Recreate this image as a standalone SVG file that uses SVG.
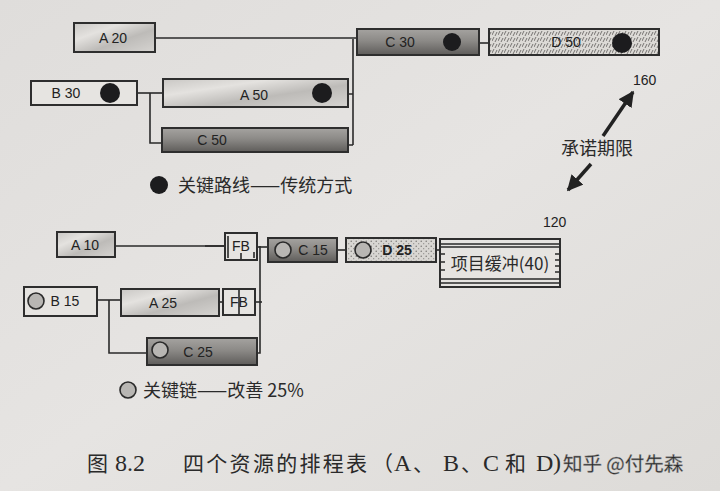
<svg xmlns="http://www.w3.org/2000/svg" width="720" height="491" viewBox="0 0 720 491">
<defs>
<linearGradient id="gA" x1="0" y1="0" x2="1" y2="1">
<stop offset="0" stop-color="#c9c7c4"/><stop offset="0.3" stop-color="#e4e2df"/><stop offset="0.6" stop-color="#bdbbb8"/><stop offset="1" stop-color="#d6d4d1"/>
</linearGradient>
<linearGradient id="gC" x1="0" y1="0" x2="0" y2="1">
<stop offset="0" stop-color="#a5a3a0"/><stop offset="0.45" stop-color="#8c8a87"/><stop offset="1" stop-color="#5e5c5a"/>
</linearGradient>
<pattern id="pD" width="6" height="6" patternUnits="userSpaceOnUse">
<rect width="6" height="6" fill="#dcdad6"/>
<path d="M0 5 L2 1 M3 6 L5 2" stroke="#6a6866" stroke-width="0.9"/>
</pattern>
<pattern id="pD2" width="5" height="5" patternUnits="userSpaceOnUse">
<rect width="5" height="5" fill="#d8d6d2"/>
<circle cx="1.2" cy="1.2" r="0.7" fill="#6f6d6a"/><circle cx="3.7" cy="3.7" r="0.6" fill="#8a8885"/>
</pattern>
<linearGradient id="bg" x1="0" y1="0" x2="1" y2="1">
<stop offset="0" stop-color="#dfdddb"/><stop offset="0.5" stop-color="#e6e4e2"/><stop offset="1" stop-color="#dddbd8"/>
</linearGradient>
<marker id="ah" viewBox="0 0 10 10" refX="9" refY="5" markerWidth="4.5" markerHeight="4.5" orient="auto-start-reverse">
<path d="M0 0 L10 5 L0 10 z" fill="#222"/>
</marker>
</defs>
<style>
.box{stroke:#2e2e2e;stroke-width:2}
.a{fill:url(#gA)}
.c{fill:url(#gC)}
.d{fill:url(#pD)}
.d2{fill:url(#pD2)}
.w{fill:#e6e4e1}
.t{font-family:"Liberation Sans",Arial,sans-serif;font-size:14px;fill:#222}
.cn{font-family:"Noto Sans CJK SC",sans-serif;fill:#2a2a2a}
.sf{font-family:"Liberation Serif","Times New Roman",serif;fill:#2a2a2a;font-size:24px}
.ln{stroke:#2a2a2a;stroke-width:1.6;fill:none}
.dot{fill:#1c1c1e}
.ring{fill:#b8b6b3;stroke:#2a2a2a;stroke-width:1.6}
</style>
<rect width="720" height="491" fill="url(#bg)"/>

<g id="connectors">
<path class="ln" d="M155 38 H357"/>
<path class="ln" d="M479 43 H489"/>
<path class="ln" d="M353 39 V145"/>
<path class="ln" d="M348 94 H353 M348 145 H353"/>
<path class="ln" d="M137 93 H163" stroke-width="2.5"/>
<path class="ln" d="M150 93 V143 H162"/>
<path class="ln" d="M115 246 H225"/>
<path class="ln" d="M205 246 H225" stroke-width="3"/>
<path class="ln" d="M257 247 H268"/>
<path class="ln" d="M337 250 H346"/>
<path class="ln" d="M436 250 H440"/>
<path class="ln" d="M260 246 V353 H257"/>
<path class="ln" d="M254 302 H262"/>
<path class="ln" d="M219 302 H223"/>
<path class="ln" d="M97 300 H121"/>
<path class="ln" d="M109 300 V353 H147"/>
<path d="M603 136 L633 92" stroke="#222" stroke-width="3.5" marker-end="url(#ah)"/>
<path d="M591 164 L568 190" stroke="#222" stroke-width="3.5" marker-end="url(#ah)"/>
</g>

<g id="A20"><rect class="box a" x="74" y="23" width="81" height="29"/><text class="t" x="113" y="43" text-anchor="middle">A 20</text></g>
<g id="C30"><rect class="box c" x="357" y="29" width="122" height="26"/><text class="t" x="400" y="47" text-anchor="middle">C 30</text><circle class="dot" cx="452" cy="42" r="9"/></g>
<g id="D50"><rect class="box d" x="489" y="29" width="170" height="26"/><text class="t" x="566" y="47" text-anchor="middle">D 50</text><circle class="dot" cx="622" cy="43" r="10"/></g>
<g id="B30"><rect class="box w" x="31" y="81" width="106" height="24"/><text class="t" x="66" y="98" text-anchor="middle">B 30</text><circle class="dot" cx="110" cy="93" r="10"/></g>
<g id="A50"><rect class="box a" x="163" y="79" width="185" height="28"/><text class="t" x="254" y="100" text-anchor="middle">A 50</text><circle class="dot" cx="322" cy="93" r="10"/></g>
<g id="C50"><rect class="box c" x="162" y="128" width="186" height="24"/><text class="t" x="212" y="145" text-anchor="middle">C 50</text></g>

<g id="legend1"><circle class="dot" cx="159" cy="185" r="9"/><text class="cn" x="178" y="192" font-size="18">关键路线——传统方式</text></g>

<g id="commit">
<text class="t" x="633" y="85" font-size="16">160</text>
<text class="cn" x="597" y="155" font-size="18" text-anchor="middle">承诺期限</text>
<text class="t" x="543" y="227" font-size="15">120</text>
</g>

<g id="A10"><rect class="box a" x="57" y="232" width="58" height="25"/><text class="t" x="85" y="250" text-anchor="middle">A 10</text></g>
<g id="FB1"><rect class="box w" x="225" y="233" width="32" height="27"/><text class="t" x="241" y="251" text-anchor="middle">FB</text><path class="ln" d="M228 236 V258 M241 253 V260 M254 252 V258" stroke-width="1.2"/></g>
<g id="C15"><rect class="box c" x="268" y="238" width="69" height="24"/><circle class="ring" cx="283" cy="250" r="8"/><text class="t" x="313" y="255" text-anchor="middle">C 15</text></g>
<g id="D25"><rect class="box d2" x="346" y="238" width="90" height="24"/><circle class="ring" cx="363" cy="250" r="8"/><text class="t" x="397" y="255" text-anchor="middle" font-weight="bold">D 25</text></g>
<g id="buffer"><rect class="box w" x="440" y="239" width="120" height="48"/><path class="ln" d="M441 244 H559 M441 247 H559 M441 279 H559 M441 283 H559" stroke-width="1.2"/><path class="ln" d="M441 254 H445 M441 262 H445 M441 270 H445 M555 254 H559 M555 260 H559 M555 266 H559 M555 272 H559" stroke-width="1.2"/><text class="cn" x="500" y="270" font-size="17" text-anchor="middle">项目缓冲(40)</text></g>
<g id="B15"><rect class="box w" x="24" y="287" width="73" height="29"/><circle class="ring" cx="36" cy="301" r="8"/><text class="t" x="65" y="306" text-anchor="middle">B 15</text></g>
<g id="A25"><rect class="box a" x="121" y="289" width="98" height="27"/><text class="t" x="163" y="308" text-anchor="middle">A 25</text></g>
<g id="FB2"><rect class="box w" x="223" y="289" width="32" height="26"/><path class="ln" d="M239 290 V314" stroke-width="1.2"/><text class="t" x="239" y="307" text-anchor="middle">FB</text></g>
<g id="C25"><rect class="box c" x="147" y="338" width="110" height="27"/><circle class="ring" cx="160" cy="350" r="8"/><text class="t" x="198" y="357" text-anchor="middle">C 25</text></g>

<g id="legend2"><circle class="ring" cx="128" cy="390" r="8"/><text class="cn" x="143" y="397" font-size="18">关键链——改善 25%</text></g>

<g id="caption">
<text class="cn" x="87" y="471" font-size="21">图</text>
<text class="sf" x="115" y="471">8.2</text>
<text class="cn" x="183" y="471" font-size="21" letter-spacing="2.3">四个资源的排程表</text>
<text class="cn" x="372" y="471" font-size="21">（</text>
<text class="sf" x="394" y="471">A</text>
<text class="cn" x="413" y="471" font-size="21">、</text>
<text class="sf" x="443" y="471">B</text>
<text class="cn" x="461" y="471" font-size="21">、</text>
<text class="sf" x="483" y="471">C</text>
<text class="cn" x="505" y="471" font-size="21">和</text>
<text class="sf" x="536" y="471">D</text>
<text class="sf" x="553" y="470" font-size="22">)</text>
<text class="cn" x="563" y="471" font-size="19.5" fill="#ffffff" stroke="#999" stroke-width="0.4">知乎 @付先森</text>
</g>
</svg>
